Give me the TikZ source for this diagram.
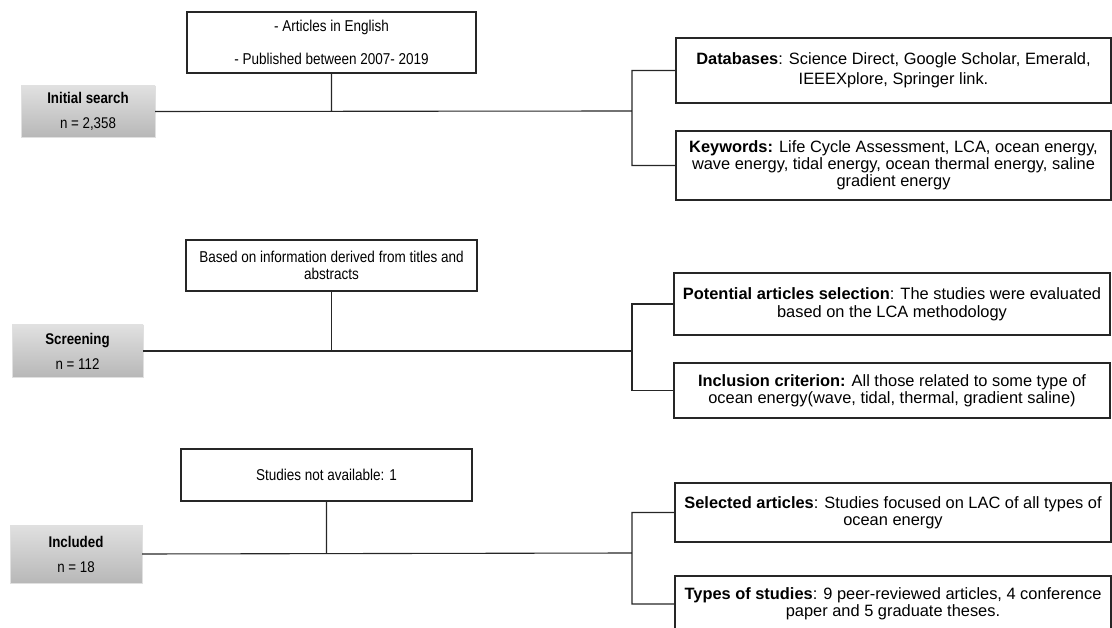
\documentclass[tikz,border=0pt]{standalone}
\usepackage{fontspec}
\setmainfont{Liberation Sans}
\newfontfamily\narrowfont[FakeStretch=0.86]{Liberation Sans}
\usetikzlibrary{positioning}

\begin{document}
\begin{tikzpicture}[x=1pt, y=-1pt,
    stNode/.style={rectangle, draw=black!12, top color=black!12, bottom color=black!28, minimum width=133pt, minimum height=52pt, align=center, font=\narrowfont\fontsize{15.5}{25}\selectfont},
    cNode/.style={rectangle, draw=black!85, line width=1.1pt, minimum width=290pt, minimum height=52pt, align=center, font=\narrowfont\fontsize{15.7}{17}\selectfont},
    iNode/.style={rectangle, draw=black!85, line width=1.1pt, minimum width=435pt, align=center, font=\fontsize{16.4}{17}\selectfont},
    edge/.style={draw=black!85, line width=1.1pt}
]
    \useasboundingbox (0,0) rectangle (1112,628);

    % initial search
    \node[stNode, minimum width=134pt, minimum height=51pt] (S1) at (88,111.5) {\textbf{Initial search}\\n = 2,358};
    \node[cNode, minimum width=289pt, minimum height=61pt, font=\narrowfont\fontsize{15.7}{33}\selectfont] (C1) at (331.5,42.5) {- Articles in English\\- Published between 2007- 2019};
    \node[iNode, minimum height=65pt, font=\fontsize{16.4}{19.5}\selectfont] (D1) at (893.5,70.5) {\textbf{Databases}: Science Direct, Google Scholar, Emerald,\\IEEEXplore, Springer link.};
    \node[iNode, minimum height=69pt] (K1) at (893.5,165.5) {\textbf{Keywords:} Life Cycle Assessment, LCA, ocean energy,\\wave energy, tidal energy, ocean thermal energy, saline\\gradient energy};
    \coordinate (B1) at (632,111);
    \path[edge] (S1.east) -- (B1) (C1.south) -- (C1.south |- B1) (D1.west) -| (B1) |- (K1.west);

    % screening
    \node[stNode, minimum width=131pt] (S2) at (77.5,351) {\textbf{Screening}\\n = 112};
    \node[cNode, minimum width=291pt, minimum height=51pt] (C2) at (331.5,265.5) {Based on information derived from titles and\\abstracts};
    \node[iNode, minimum width=436pt, minimum height=62pt, font=\fontsize{16.4}{18.3}\selectfont] (D2) at (892,304) {\textbf{Potential articles selection}: The studies were evaluated\\based on the LCA methodology};
    \node[iNode, minimum width=436pt, minimum height=55pt] (K2) at (892,390.5) {\textbf{Inclusion criterion:} All those related to some type of\\ocean energy(wave, tidal, thermal, gradient saline)};
    \coordinate (B2) at (632,351);
    \path[edge] (S2.east) -- (B2) (C2.south) -- (C2.south |- B2) (D2.west) -| (B2) |- (K2.west);

    % included
    \node[stNode, minimum width=132pt, minimum height=58pt] (S3) at (76,554) {\textbf{Included}\\n = 18};
    \node[cNode, minimum width=291pt] (C3) at (326.5,475) {Studies not available: 1};
    \node[iNode, minimum width=436pt, minimum height=59pt] (D3) at (893,512.5) {\textbf{Selected articles}: Studies focused on LAC of all types of\\ocean energy};
    \node[iNode, minimum width=436pt, minimum height=56pt] (K3) at (893,604) {\textbf{Types of studies}: 9 peer-reviewed articles, 4 conference\\paper and 5 graduate theses.};
    \coordinate (B3) at (632,553);
    \path[edge] (S3.east) -- (B3) (C3.south) -- (C3.south |- B3) (D3.west) -| (B3) |- (K3.west);
\end{tikzpicture}
\end{document}
